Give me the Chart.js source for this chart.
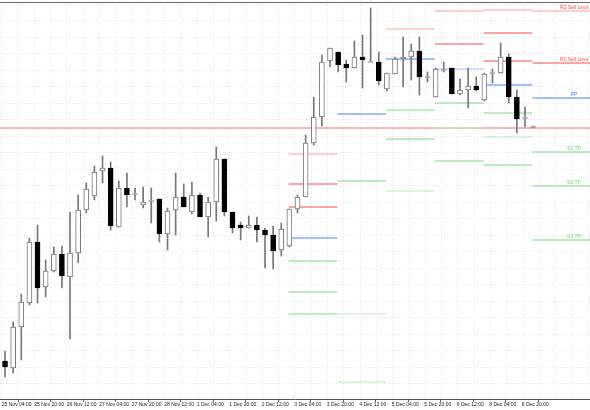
<!DOCTYPE html>
<html><head><meta charset="utf-8">
<script src="https://cdn.jsdelivr.net/npm/chart.js@4/dist/chart.umd.min.js"></script>
<style>html,body{margin:0;padding:0;background:#fff}#w{width:590px;height:410px}</style>
</head><body><div id="w"><canvas id="c"></canvas></div>
<script>
const opens  = [39,32,73,97,158,113,129,146,123,147,190,204,229,232,173,212,206,195,199,201,166,190,203,188,205,183,198,241,188,175,172,175,170,165,150,154,191,203,257,283,339,348,336,332,343,338,338,311,326,341,343,349,323,303,330,332,306,310,314,300,327,327,343,303,282,273];
const highs  = [49,78,106,162,175,140,153,154,188,205,217,234,244,238,219,227,212,213,212,201,192,227,216,218,207,203,253,241,188,178,184,183,172,174,177,191,205,265,303,345,352,348,340,359,365,392,348,327,343,363,356,363,328,332,338,332,321,332,323,327,331,357,346,310,293,274];
const lows   = [23,27,40,95,97,103,128,112,61,137,187,200,217,170,173,193,200,192,177,158,150,165,193,186,183,163,179,184,167,160,172,158,132,131,144,153,187,203,255,274,333,328,318,332,312,338,315,309,326,313,320,305,318,303,328,306,305,292,309,299,317,327,297,267,273,272];
const closes = [33,73,98,158,112,129,146,124,147,190,211,228,232,174,212,205,206,198,199,166,189,203,193,205,183,198,241,188,172,172,175,170,165,149,171,191,203,257,283,338,352,335,332,343,340,338,319,327,341,343,349,323,323,331,330,306,310,314,310,326,327,343,303,281,282,273];
const tickLabels = ["25 Nov 04:00","25 Nov 20:00","26 Nov 12:00","27 Nov 04:00","27 Nov 20:00","28 Nov 12:00","1 Dec 04:00","1 Dec 20:00","2 Dec 12:00","3 Dec 04:00","3 Dec 20:00","4 Dec 12:00","5 Dec 04:00","5 Dec 20:00","6 Dec 12:00","8 Dec 04:00","8 Dec 20:00"];
const segBounds = [34.9,40.9,46.9,52.9,58.9,64.9,72];
const segLevels = [
 [[246,'lr'],[216,'r'],[193,'r'],[162,'b'],[139,'g'],[108,'g'],[86,'g']],
 [[286,'b'],[219,'g'],[86,'lg'],[18,'lg']],
 [[371,'lr'],[341,'b'],[290,'g'],[261,'g'],[209,'lg']],
 [[389,'lr'],[356,'r'],[331,'lb'],[297,'g'],[272,'lg'],[239,'g']],
 [[390,'lr'],[367,'r'],[339,'r'],[315,'b'],[287,'g'],[263,'lg'],[235,'g']],
 [[389,'lr'],[337,'r'],[302,'b'],[248,'g'],[214,'g'],[160,'g']]
];
const rightLabels = ["R2 Sell Limit","R1 Sell Limit","PP","S1 TP","S2 TP","S3 TP"];
const rightLabelPrices = [389,337,302,248,214,160];
const currentPrice = 272;

const colors = {lr:'#ff9c9c',r:'#ff4a4a',b:'#4a7ef0',lb:'#9dbcf6',g:'#7fd87f',lg:'#b8ecb8'};
const labelColors = ['#ff4a4a','#ff4a4a','#4a7ef0','#6fd06f','#6fd06f','#6fd06f'];
const bodies = opens.map((o,i)=>({x:i,y:Math.abs(o-closes[i])<1?[o-0.5,o+0.5]:[o,closes[i]]}));
const wicks = highs.map((h,i)=>({x:i,y:[lows[i],h]}));
const bodyFill = opens.map((o,i)=>closes[i]<o?'#000':'#fff');
const bodyBorder = opens.map((o,i)=>closes[i]<o?'#000':'#777');

const datasets = [];
segLevels.forEach((lv,si)=>{
  lv.forEach(([p,k])=>{
    datasets.push({type:'line',data:[{x:segBounds[si],y:p},{x:segBounds[si+1],y:p}],borderColor:colors[k],borderWidth:1,pointRadius:0,order:3});
  });
});
datasets.push({type:'line',data:[{x:-0.62,y:currentPrice},{x:72,y:currentPrice}],borderColor:'#f07070',borderWidth:1,pointRadius:0,order:3});
datasets.push({type:'bar',data:wicks,backgroundColor:'#777',barThickness:1,grouped:false,order:2});
datasets.push({type:'bar',data:bodies,backgroundColor:bodyFill,borderColor:bodyBorder,borderWidth:1,borderSkipped:false,barThickness:5,grouped:false,order:1});

const deco = {id:'deco',
 beforeDatasetsDraw(ch){
   const c=ch.ctx,a=ch.chartArea;c.save();c.strokeStyle='#e4e4e4';c.setLineDash([1,2]);c.lineWidth=1;
   for(let x=a.left+1;x<a.right;x+=16.3){c.beginPath();c.moveTo(Math.round(x)+.5,a.top);c.lineTo(Math.round(x)+.5,a.bottom);c.stroke();}
   for(let y=a.bottom-16;y>a.top;y-=16.5){c.beginPath();c.moveTo(a.left,Math.round(y)+.5);c.lineTo(a.right,Math.round(y)+.5);c.stroke();}
   c.restore();
 },
 afterDraw(ch){
   const c=ch.ctx,a=ch.chartArea,ys=ch.scales.y;c.save();
   c.strokeStyle='#666';c.lineWidth=1;
   c.beginPath();c.moveTo(0,a.top+.5);c.lineTo(590,a.top+.5);c.stroke();
   c.font='5px "Liberation Sans"';c.textAlign='center';c.textBaseline='bottom';
   rightLabels.forEach((t,i)=>{ c.fillStyle=labelColors[i]; c.fillText(t,574,ys.getPixelForValue(rightLabelPrices[i])-1);});
   c.restore();
 }};

new Chart(document.getElementById('c'),{
 data:{datasets},
 options:{responsive:true,maintainAspectRatio:false,animation:false,
  layout:{padding:{left:0,right:0,top:2,bottom:0}},
  plugins:{legend:{display:false},tooltip:{enabled:false}},
  scales:{
   x:{type:'linear',min:-0.62,max:72,offset:false,
      afterBuildTicks:s=>{s.ticks=tickLabels.map((t,i)=>({value:i*4-0.4}));},
      afterFit:s=>{s.height=11;},
      grid:{display:true,drawOnChartArea:false,drawTicks:true,tickLength:3,color:'#666'},
      border:{color:'#555'},
      ticks:{autoSkip:false,maxRotation:0,padding:0,font:{size:5,family:'Liberation Sans'},color:'#222',align:'start',
        callback:(v,i)=>tickLabels[i]}},
   y:{min:1,max:398,display:false}
  }},
 plugins:[deco]});
</script></body></html>
